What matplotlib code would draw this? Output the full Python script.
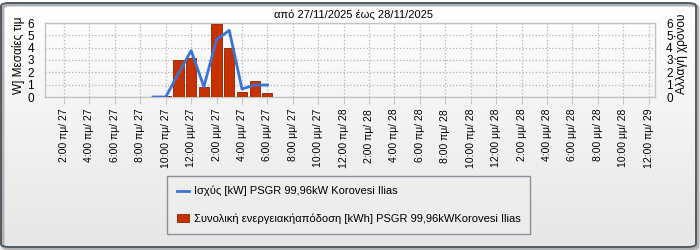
import matplotlib
matplotlib.use('Agg')
import matplotlib.pyplot as plt
import numpy as np
from matplotlib.patches import FancyBboxPatch, Rectangle
from matplotlib.colors import LinearSegmentedColormap
from matplotlib.legend_handler import HandlerPatch

plt.rcParams['font.family'] = ['Liberation Sans', 'DejaVu Sans']

# ---------------- data ----------------
tick_hours = list(range(2, 49, 2))
tick_labels = [
    "2:00 πμ/ 27", "4:00 πμ/ 27", "6:00 πμ/ 27", "8:00 πμ/ 27", "10:00 πμ/ 27",
    "12:00 μμ/ 27", "2:00 μμ/ 27", "4:00 μμ/ 27", "6:00 μμ/ 27", "8:00 μμ/ 27",
    "10:00 μμ/ 27", "12:00 πμ/ 28",
    "2:00 πμ/ 28", "4:00 πμ/ 28", "6:00 πμ/ 28", "8:00 πμ/ 28", "10:00 πμ/ 28",
    "12:00 μμ/ 28", "2:00 μμ/ 28", "4:00 μμ/ 28", "6:00 μμ/ 28", "8:00 μμ/ 28",
    "10:00 μμ/ 28", "12:00 πμ/ 29",
]
bar_hours = [9, 10, 11, 12, 13, 14, 15, 16, 17, 18]
energy_kwh = [0.03, 0.1, 3.0, 3.2, 0.8, 5.95, 4.0, 0.4, 1.3, 0.3]
line_hours = [9, 10, 11, 12, 13, 14, 15, 16, 17, 18]
power_kw = [0.0, 0.0, 1.9, 3.76, 0.84, 4.65, 5.4, 0.65, 0.97, 0.97]
y_ticks = [0, 1, 2, 3, 4, 5, 6]

title = "από 27/11/2025 έως 28/11/2025"
left_label = "W] Μεσαίες τιμ"
right_label = "Αλλαγή χρόνου"
line_label = "Ισχύς [kW] PSGR 99,96kW Korovesi Ilias"
bar_label = "Συνολική ενεργειακήαπόδοση [kWh] PSGR 99,96kWKorovesi Ilias"

W, H = 700, 250
fig = plt.figure(figsize=(W / 100, H / 100), dpi=100)

# background gradient
bg = fig.add_axes([0, 0, 1, 1], zorder=-10)
cmap = LinearSegmentedColormap.from_list('bg', ['#e6e6e6', '#ffffff'])
grad = np.linspace(0, 1, 256).reshape(-1, 1)
bg.imshow(grad, extent=[0, 1, 0, 1], aspect='auto', cmap=cmap, origin='lower')
bg.set_xlim(0, 1)
bg.set_ylim(0, 1)
bg.axis('off')
# shadow + border
shadow = FancyBboxPatch((3 / W, 1 / H), 695 / W, 244 / H,
                        boxstyle="round,pad=0,rounding_size=0.012",
                        transform=fig.transFigure, facecolor='none',
                        edgecolor='#b0b0b0', linewidth=2.0, zorder=1)
bg.add_patch(shadow)
border = FancyBboxPatch((1 / W, 3 / H), 695 / W, 244 / H,
                        boxstyle="round,pad=0,rounding_size=0.012",
                        transform=fig.transFigure, facecolor='none',
                        edgecolor='#4f5a64', linewidth=1.4, zorder=2)
bg.add_patch(border)

# main axes
x0, x1, y0, y1 = 45, 655, 23, 97
ax = fig.add_axes([x0 / W, 1 - y1 / H, (x1 - x0) / W, (y1 - y0) / H])
ax.set_facecolor('none')
ax.set_xlim(0.5, 48.5)
ax.set_ylim(0, 6)

bars = ax.bar(bar_hours, energy_kwh, width=0.8, color='#c83200',
              edgecolor='#8a2200', linewidth=0.6, zorder=3)
line, = ax.plot(line_hours, power_kw, color='#3a74d4', linewidth=2.0, zorder=4)

ax.set_xticks(tick_hours)
ax.set_xticklabels(tick_labels, rotation=90, fontsize=7.5, va='top', ha='center')
ax.set_yticks(y_ticks)
ax.set_yticklabels([str(v) for v in y_ticks], fontsize=8.5)
ax.tick_params(axis='x', length=5, width=0.8, color='#c8c8c8', pad=3.5)
ax.tick_params(axis='y', length=0, pad=8)
ax.grid(True, linestyle=':', color='#b4b4b4', linewidth=0.9)
ax.set_axisbelow(True)
for s in ax.spines.values():
    s.set_color('#c4c4c4')
    s.set_linewidth(1.0)

ax2 = ax.twinx()
ax2.set_ylim(0, 6)
ax2.set_yticks(y_ticks)
ax2.set_yticklabels([str(v) for v in y_ticks], fontsize=8.5)
ax2.tick_params(axis='y', length=0, pad=8)
for s in ax2.spines.values():
    s.set_visible(False)

fig.text(353 / W, 1 - 15 / H, title, ha='center', va='center', fontsize=8)
fig.text(19 / W, 1 - 55 / H, left_label, rotation=90, ha='center', va='center', fontsize=8.5)
fig.text(681 / W, 1 - 54 / H, right_label, rotation=90, ha='center', va='center', fontsize=8.5)


def square_patch(legend, orig_handle, xdescent, ydescent, width, height, fontsize):
    s = 8.0
    return Rectangle((-xdescent, -ydescent + (height - s) / 2), s * 0.95, s)


leg = fig.legend([line, bars], [line_label, bar_label],
                 loc='upper left', bbox_to_anchor=(167 / W, 1 - 176 / H),
                 bbox_transform=fig.transFigure, borderaxespad=0,
                 fontsize=8, frameon=True, fancybox=False,
                 handlelength=1.1, handletextpad=0.4, labelspacing=1.5,
                 borderpad=0.9,
                 handler_map={type(bars[0]): HandlerPatch(patch_func=square_patch)})
leg.get_frame().set_edgecolor('#6f7a84')
leg.get_frame().set_facecolor('#eeeeee')
leg.get_frame().set_linewidth(1.0)

fig.savefig('out.png', dpi=100)
